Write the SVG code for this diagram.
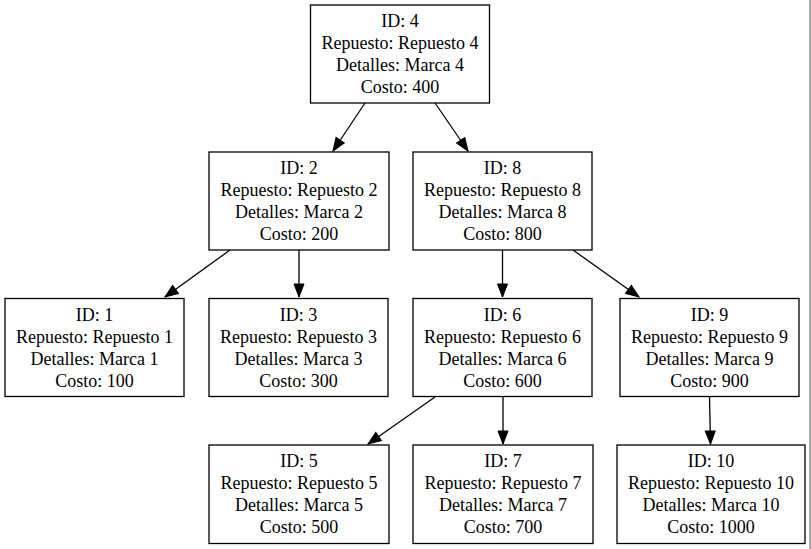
<svg xmlns="http://www.w3.org/2000/svg" width="811" height="549" viewBox="0 0 811 549">
<style>
.node rect{fill:#fff;stroke:#000;stroke-width:1.3}
.node text{font-family:"Liberation Serif","Times New Roman",serif;font-size:18px;fill:#000;text-anchor:middle}
.edges line{stroke:#000;stroke-width:1.3;marker-end:url(#ah)}
</style>
<defs>
<marker id="ah" markerUnits="userSpaceOnUse" markerWidth="15" markerHeight="11" refX="13" refY="5" orient="auto" overflow="visible">
<path d="M0,0 L13,5 L0,10 z" fill="#000" stroke="#000" stroke-width="1"/>
</marker>
</defs>
<rect x="0" y="0" width="811" height="549" fill="#fff"/>
<line x1="810" y1="0" x2="810" y2="549" stroke="#808080" stroke-width="1.3"/>
<g class="edges" id="edges">
<line x1="365" y1="103" x2="333" y2="151"/>
<line x1="435" y1="103" x2="468" y2="151"/>
<line x1="230" y1="250" x2="165" y2="297"/>
<line x1="299" y1="250" x2="299" y2="297"/>
<line x1="502.5" y1="250" x2="502.5" y2="297"/>
<line x1="573" y1="250" x2="639" y2="297"/>
<line x1="435" y1="397" x2="368" y2="444"/>
<line x1="503" y1="397" x2="503" y2="444"/>
<line x1="709.5" y1="397" x2="710.5" y2="444"/>
</g>
<g class="node" id="n4"><rect x="310.5" y="5" width="179" height="98"/>
<text x="400" y="27">ID: 4</text><text x="400" y="49">Repuesto: Repuesto 4</text><text x="400" y="71">Detalles: Marca 4</text><text x="400" y="93">Costo: 400</text></g>
<g class="node" id="n2"><rect x="209" y="152" width="180" height="98"/>
<text x="299" y="174">ID: 2</text><text x="299" y="196">Repuesto: Repuesto 2</text><text x="299" y="218">Detalles: Marca 2</text><text x="299" y="240">Costo: 200</text></g>
<g class="node" id="n8"><rect x="413" y="152" width="179" height="98"/>
<text x="502.5" y="174">ID: 8</text><text x="502.5" y="196">Repuesto: Repuesto 8</text><text x="502.5" y="218">Detalles: Marca 8</text><text x="502.5" y="240">Costo: 800</text></g>
<g class="node" id="n1"><rect x="5" y="298.5" width="179" height="98"/>
<text x="94.5" y="320.5">ID: 1</text><text x="94.5" y="342.5">Repuesto: Repuesto 1</text><text x="94.5" y="364.5">Detalles: Marca 1</text><text x="94.5" y="386.5">Costo: 100</text></g>
<g class="node" id="n3"><rect x="209" y="298.5" width="179" height="98"/>
<text x="298.5" y="320.5">ID: 3</text><text x="298.5" y="342.5">Repuesto: Repuesto 3</text><text x="298.5" y="364.5">Detalles: Marca 3</text><text x="298.5" y="386.5">Costo: 300</text></g>
<g class="node" id="n6"><rect x="413" y="298.5" width="179" height="98"/>
<text x="502.5" y="320.5">ID: 6</text><text x="502.5" y="342.5">Repuesto: Repuesto 6</text><text x="502.5" y="364.5">Detalles: Marca 6</text><text x="502.5" y="386.5">Costo: 600</text></g>
<g class="node" id="n9"><rect x="620" y="298.5" width="179" height="98"/>
<text x="709.5" y="320.5">ID: 9</text><text x="709.5" y="342.5">Repuesto: Repuesto 9</text><text x="709.5" y="364.5">Detalles: Marca 9</text><text x="709.5" y="386.5">Costo: 900</text></g>
<g class="node" id="n5"><rect x="209" y="445" width="180" height="98.5"/>
<text x="299" y="467">ID: 5</text><text x="299" y="489">Repuesto: Repuesto 5</text><text x="299" y="511">Detalles: Marca 5</text><text x="299" y="533">Costo: 500</text></g>
<g class="node" id="n7"><rect x="413" y="445" width="180" height="98.5"/>
<text x="503" y="467">ID: 7</text><text x="503" y="489">Repuesto: Repuesto 7</text><text x="503" y="511">Detalles: Marca 7</text><text x="503" y="533">Costo: 700</text></g>
<g class="node" id="n10"><rect x="617" y="445" width="188" height="98.5"/>
<text x="711" y="467">ID: 10</text><text x="711" y="489">Repuesto: Repuesto 10</text><text x="711" y="511">Detalles: Marca 10</text><text x="711" y="533">Costo: 1000</text></g>
</svg>
